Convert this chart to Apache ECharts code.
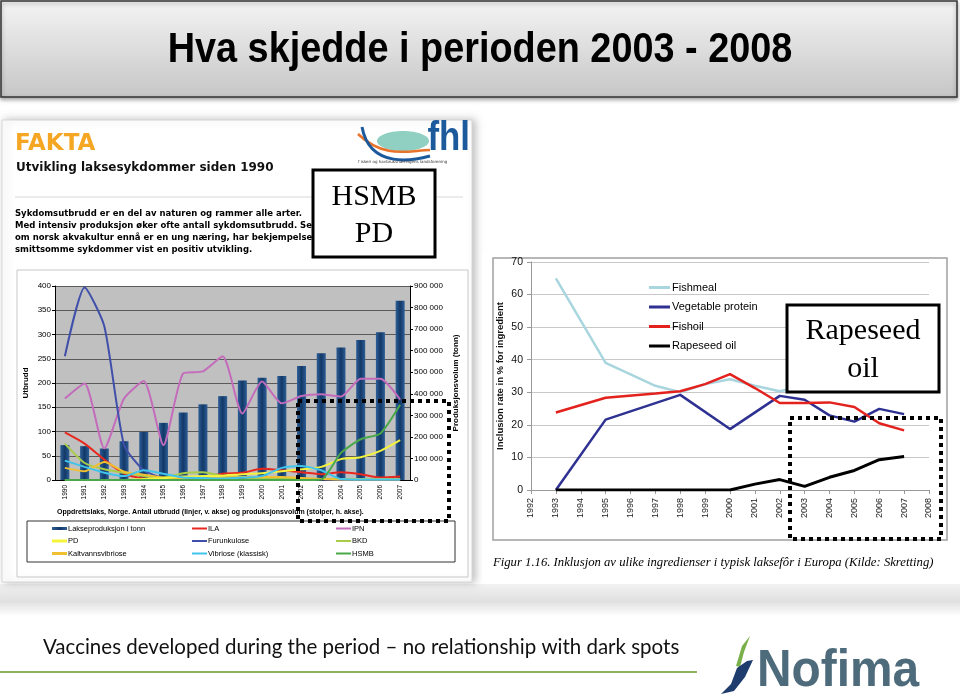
<!DOCTYPE html>
<html><head><meta charset="utf-8">
<script src="https://cdn.jsdelivr.net/npm/echarts@6/dist/echarts.min.js"></script>
<style>html,body{margin:0;padding:0;background:#fff}#c{width:960px;height:696px}</style>
</head><body><div id="c"></div>
<script>
// ---------- Left chart data (FHL: disease outbreaks & production) ----------
const leftYears = ['1990','1991','1992','1993','1994','1995','1996','1997','1998','1999','2000','2001','2002','2003','2004','2005','2006','2007'];
const production = [162000,157000,146000,180000,223000,265000,313000,351000,389000,462000,474000,482000,529000,588000,615000,649000,685000,832000];
const ila =          [98,75,42,13,3,1,0,5,13,15,23,20,16,12,16,12,5,7];
const ipn =          [168,199,65,168,204,72,220,224,255,137,203,158,173,177,172,209,209,166];
const pd =           [0,0,0,0,2,4,7,8,9,12,14,18,22,27,43,47,60,82];
const furunkulose =  [255,397,317,72,20,4,2,1,1,1,1,1,1,1,0,0,0,0];
const bkd =          [75,35,22,15,8,5,14,16,8,5,4,3,2,2,2,2,2,2];
const kaltvann =     [25,18,37,17,11,5,4,7,5,6,6,6,4,2,1,1,1,1];
const vibriose =     [40,27,15,8,20,13,5,4,3,5,8,25,29,20,2,1,1,1];
const hsmb =         [0,0,0,0,0,0,0,0,0,0,0,0,0,1,56,84,96,155];

// ---------- Right chart data (Skretting: feed ingredient inclusion %) ----------
const rightYears = ['1992','1993','1994','1995','1996','1997','1998','1999','2000','2001','2002','2003','2004','2005','2006','2007','2008'];
const fishmeal =   [null,65,null,39,35.5,32,30,32.5,34,32,30.3,32,33,33,34,35,null];
const vegetable =  [null,0,null,21.6,null,null,29.2,null,18.7,null,28.9,27.7,22.9,21.0,24.9,23.3,null];
const fishoil =    [null,23.8,null,28.3,null,29.6,30.3,32.5,35.6,31.3,26.7,26.7,26.9,25.5,20.5,18.3,null];
const rapeseed =   [null,0,0,0,0,0,0,0,0,1.8,3.2,1.1,3.9,6.0,9.3,10.3,null];

const spaced = v => String(v).replace(/\B(?=(\d{3})+(?!\d))/g, ' ');

const chart = echarts.init(document.getElementById('c'), null, {renderer:'canvas'});

function txt(x, y, text, font, fill, align, va, z, sx) {
  return {type:'text', x:x, y:y, z: z||10, silent:true, scaleX: sx||1,
    style:{text:text, font:font, fill:fill||'#000', align:align||'left', textAlign:align||'left',
      verticalAlign:va||'middle', textVerticalAlign:va||'middle'}};
}
function leftLine(name, data, color) {
  return {name:name, type:'line', xAxisIndex:0, yAxisIndex:0, data:data, smooth:0.2,
    symbol:'none', lineStyle:{width:2, color:color}, itemStyle:{color:color}, z:3};
}
function rightLine(name, data, color, w) {
  return {name:name, type:'line', xAxisIndex:1, yAxisIndex:2, data:data, connectNulls:true,
    symbol:'none', lineStyle:{width:w, color:color}, itemStyle:{color:color}, z:3};
}

const arial = '"Liberation Sans",Arial,sans-serif';
const verd = '"DejaVu Sans",Verdana,sans-serif';
const serif = '"Liberation Serif","DejaVu Serif",serif';

const graphics = [
  // background panels
  {type:'rect', z:-30, silent:true, shape:{x:0,y:584,width:960,height:32},
    style:{fill:new echarts.graphic.LinearGradient(0,0,0,1,[{offset:0,color:'#f2f2f2'},{offset:0.55,color:'#e0e0e0'},{offset:1,color:'#ffffff'}])}},
  {type:'rect', z:-20, silent:true, shape:{x:2,y:120,width:470,height:462},
    style:{fill:'#fff', stroke:'#d6d6d6', lineWidth:1, shadowBlur:8, shadowOffsetX:3, shadowColor:'rgba(0,0,0,0.25)'}},
  {type:'rect', z:-20, silent:true, shape:{x:482,y:253,width:468,height:329}, style:{fill:'#fff'}},
  {type:'rect', z:-15, silent:true, shape:{x:493,y:258,width:454,height:282}, style:{fill:'none', stroke:'#a0a0a0', lineWidth:1.5}},
  {type:'rect', z:-15, silent:true, shape:{x:17,y:270,width:451,height:307}, style:{fill:'none', stroke:'#c8c8c8', lineWidth:1}},
  // title box
  {type:'rect', z:5, silent:true, shape:{x:1,y:1,width:956,height:96},
    style:{fill:new echarts.graphic.LinearGradient(0,0,0,1,[{offset:0,color:'#f4f4f4'},{offset:1,color:'#c6c6c6'}]),
      stroke:'#333', lineWidth:1.5, shadowBlur:4, shadowOffsetY:2, shadowColor:'rgba(0,0,0,0.35)'}},
  txt(480, 50, 'Hva skjedde i perioden 2003 - 2008', 'bold 43px '+arial, '#000', 'center', 'middle', 10, 0.88),
  // left panel texts
  txt(15, 144, 'FAKTA', 'bold 23px '+verd, '#f5a623'),
  txt(16, 168, 'Utvikling laksesykdommer siden 1990', 'bold 12px '+verd, '#111'),
  {type:'line', z:5, silent:true, shape:{x1:15,y1:197,x2:463,y2:197}, style:{stroke:'#d8d8d8', lineWidth:1}},
  txt(15, 214, 'Sykdomsutbrudd er en del av naturen og rammer alle arter.', 'bold 8.5px '+verd, '#000'),
  txt(15, 226, 'Med intensiv produksjon øker ofte antall sykdomsutbrudd. Selv', 'bold 8.5px '+verd, '#000'),
  txt(15, 238, 'om norsk akvakultur ennå er en ung næring, har bekjempelsen av', 'bold 8.5px '+verd, '#000'),
  txt(15, 250, 'smittsomme sykdommer vist en positiv utvikling.', 'bold 8.5px '+verd, '#000'),
  // fhl logo
  {type:'ellipse', z:6, silent:true, shape:{cx:403,cy:141,rx:26,ry:10}, style:{fill:'#8fd0c2'}},
  {type:'bezierCurve', z:7, silent:true, shape:{x1:358,y1:134,x2:430,y2:150,cpx1:385,cpy1:160,cpx2:410,cpy2:150}, style:{stroke:'#e8732a', lineWidth:2.5, fill:'none'}},
  {type:'bezierCurve', z:7, silent:true, shape:{x1:362,y1:127,x2:430,y2:156,cpx1:370,cpy1:170,cpx2:415,cpy2:160}, style:{stroke:'#1d5a9c', lineWidth:3, fill:'none'}},
  txt(470, 159, 'fhl', 'bold 41px '+arial, '#1d5a9c', 'right', 'bottom', 10, 0.85),
  txt(358, 162, 'f iskeri og havbruksnæringens landsforening', '4px '+verd, '#333'),
  // left chart caption & legend box
  txt(57, 512, 'Oppdrettslaks, Norge. Antall utbrudd (linjer, v. akse) og produksjonsvolum (stolper, h. akse).', 'bold 7px '+arial, '#000'),
  {type:'rect', z:5, silent:true, shape:{x:27,y:521,width:428,height:41}, style:{fill:'none', stroke:'#333', lineWidth:1}},
  // right caption
  txt(493, 563, 'Figur 1.16. Inklusjon av ulike ingredienser i typisk laksefôr i Europa (Kilde: Skretting)', 'italic 12.7px '+serif, '#000'),
  // annotation boxes
  {type:'rect', z:100, silent:true, shape:{x:313,y:170,width:122,height:87}, style:{fill:'#fff', stroke:'#000', lineWidth:3}},
  txt(374, 197, 'HSMB', '30px '+serif, '#000', 'center', 'middle', 101),
  txt(374, 234, 'PD', '30px '+serif, '#000', 'center', 'middle', 101),
  {type:'rect', z:100, silent:true, shape:{x:787,y:305,width:152,height:87}, style:{fill:'#fff', stroke:'#000', lineWidth:3}},
  txt(863, 331, 'Rapeseed', '30px '+serif, '#000', 'center', 'middle', 101),
  txt(863, 369, 'oil', '30px '+serif, '#000', 'center', 'middle', 101),
  {type:'rect', z:100, silent:true, shape:{x:298,y:401,width:151,height:120}, style:{fill:'none', stroke:'#000', lineWidth:4, lineDash:[4,4]}},
  {type:'rect', z:100, silent:true, shape:{x:790,y:418,width:151,height:121}, style:{fill:'none', stroke:'#000', lineWidth:4, lineDash:[4,4]}},
  // bottom
  txt(43, 647, 'Vaccines developed during the period – no relationship with dark spots', '20.5px Lato,"Open Sans",sans-serif', '#111'),
  {type:'line', z:5, silent:true, shape:{x1:0,y1:672,x2:697,y2:672}, style:{stroke:'#8fb060', lineWidth:2}},
  {type:'polygon', z:6, silent:true, shape:{points:[[750,636],[742,646],[736,666],[740,667],[744,652]]}, style:{fill:'#7ab04a'}},
  {type:'polygon', z:6, silent:true, shape:{points:[[737,668],[731,684],[721,694],[734,691],[745,677],[753,660],[747,661]]}, style:{fill:'#1e3c6e'}},
  txt(757, 672, 'Nofima', 'bold 52px '+arial, '#4e6b7c', 'left', 'middle', 10, 0.92)
];

const legText = {fontSize:7.5, color:'#000', padding:[0,0,0,-4]};
const option = {
  animation:false,
  backgroundColor:'#ffffff',
  textStyle:{fontFamily:arial},
  grid:[
    {left:55, top:286, width:355, height:194, show:true, backgroundColor:'#c0c0c0', borderWidth:0},
    {left:531, top:262, width:398, height:228, show:false}
  ],
  legend:[
    {data:['Lakseproduksjon i tonn','PD','Kaltvannsvibriose'], left:52, top:524.5, padding:0, orient:'vertical', icon:'rect', itemWidth:15, itemHeight:3, itemGap:4.5, textStyle:legText},
    {data:['ILA','Furunkulose','Vibriose (klassisk)'], left:192, top:524.5, padding:0, orient:'vertical', icon:'rect', itemWidth:15, itemHeight:2, itemGap:4.5, textStyle:legText},
    {data:['IPN','BKD','HSMB'], left:336, top:524.5, padding:0, orient:'vertical', icon:'rect', itemWidth:15, itemHeight:2, itemGap:4.5, textStyle:legText},
    {data:['Fishmeal','Vegetable protein','Fishoil','Rapeseed oil'], left:649, top:282, padding:0, orient:'vertical', icon:'rect', itemWidth:21, itemHeight:3, itemGap:8.5, textStyle:{fontSize:11, color:'#000', padding:[0,0,0,-3]}}
  ],
  xAxis:[
    {gridIndex:0, type:'category', data:leftYears, axisLine:{lineStyle:{color:'#000'}}, axisTick:{lineStyle:{color:'#000'}, length:4},
      axisLabel:{rotate:90, fontSize:6.5, color:'#000', margin:5}},
    {gridIndex:1, type:'category', data:rightYears, boundaryGap:false, axisLine:{lineStyle:{color:'#999'}}, axisTick:{lineStyle:{color:'#999'}, length:4},
      axisLabel:{rotate:90, fontSize:9, color:'#222', margin:8}}
  ],
  yAxis:[
    {gridIndex:0, type:'value', min:0, max:400, interval:50, position:'left',
      axisLine:{show:true, lineStyle:{color:'#000'}}, axisTick:{show:true, length:3, lineStyle:{color:'#000'}},
      axisLabel:{fontSize:8, color:'#000', margin:4}, splitLine:{lineStyle:{color:'#5a5a5a', width:1}},
      name:'Utbrudd', nameLocation:'middle', nameGap:25, nameRotate:90, nameTextStyle:{fontSize:8, fontWeight:'bold', color:'#000'}},
    {gridIndex:0, type:'value', min:0, max:900000, interval:100000, position:'right',
      axisLine:{show:true, lineStyle:{color:'#000'}}, axisTick:{show:true, length:3, lineStyle:{color:'#000'}},
      axisLabel:{fontSize:8, color:'#000', margin:4, formatter:spaced}, splitLine:{show:false},
      name:'Produksjonsvolum (tonn)', nameLocation:'middle', nameGap:42, nameRotate:90, nameTextStyle:{fontSize:8, fontWeight:'bold', color:'#000'}},
    {gridIndex:1, type:'value', min:0, max:70, interval:10,
      axisLine:{show:true, lineStyle:{color:'#999'}}, axisTick:{show:true, length:4, lineStyle:{color:'#999'}},
      axisLabel:{fontSize:10.5, color:'#111', margin:8}, splitLine:{lineStyle:{color:'#c8c8c8', width:1}},
      name:'Inclusion rate in % for ingredient', nameLocation:'middle', nameGap:26, nameRotate:90, nameTextStyle:{fontSize:9.5, fontWeight:'bold', color:'#111'}}
  ],
  series:[
    {name:'Lakseproduksjon i tonn', type:'bar', xAxisIndex:0, yAxisIndex:1, data:production, barWidth:9, z:2,
      itemStyle:{color:new echarts.graphic.LinearGradient(0,0,1,0,[{offset:0,color:'#2d5e96'},{offset:0.5,color:'#123867'},{offset:1,color:'#2d5e96'}])}},
    leftLine('IPN', ipn, '#c46cbc'),
    leftLine('Furunkulose', furunkulose, '#4050aa'),
    leftLine('ILA', ila, '#e8281e'),
    leftLine('BKD', bkd, '#a8cc48'),
    leftLine('Kaltvannsvibriose', kaltvann, '#f0c030'),
    leftLine('PD', pd, '#f4f43c'),
    leftLine('Vibriose (klassisk)', vibriose, '#40c4ec'),
    leftLine('HSMB', hsmb, '#4aa84a'),
    rightLine('Fishmeal', fishmeal, '#a9d6de', 2.5),
    rightLine('Vegetable protein', vegetable, '#2e3192', 2.5),
    rightLine('Fishoil', fishoil, '#e3221e', 2.5),
    rightLine('Rapeseed oil', rapeseed, '#000000', 3)
  ],
  graphic:{elements:graphics}
};
chart.setOption(option);
</script></body></html>
